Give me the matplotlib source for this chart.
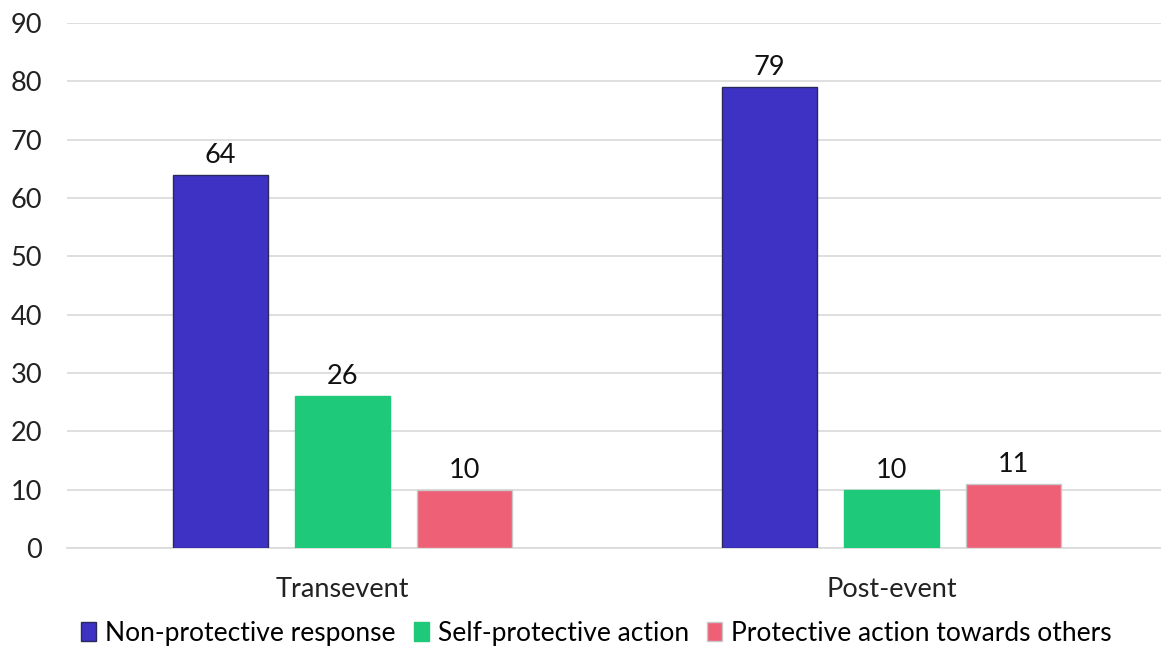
import numpy as np
import matplotlib
matplotlib.use("Agg")
import matplotlib.pyplot as plt

plt.rcParams['font.family'] = ['Lato', 'DejaVu Sans']

categories = ["Transevent", "Post-event"]
series_names = ["Non-protective response", "Self-protective action", "Protective action towards others"]
non_protective = [64, 79]
self_protective = [26, 10]
protective_others = [10, 11]
yticks = [0, 10, 20, 30, 40, 50, 60, 70, 80, 90]

colors = ["#3D32C4", "#1FC97A", "#EE6076"]
edges = ["#2a2a5a", "#1FC97A", "#c8c8c8"]

W, H = 1161, 647
fig = plt.figure(figsize=(W / 100, H / 100), dpi=100)
ax = fig.add_axes([67 / W, (647 - 548) / H, (W - 67) / W, (548 - 23) / H])

x = np.arange(len(categories))
bw = 95 / 549
step = 122 / 549
data = [non_protective, self_protective, protective_others]
for i, vals in enumerate(data):
    pos = x + (i - 1) * step
    bars = ax.bar(pos, vals, width=bw, color=colors[i], edgecolor=edges[i],
                  linewidth=1.0, label=series_names[i], zorder=3)
    for b, v in zip(bars, vals):
        ax.text(b.get_x() + b.get_width() / 2, v + 1.2, str(v),
                ha='center', va='bottom', fontsize=19.5, color='#111111')

ax.set_xlim(-275.5 / 549, (W - 342.5) / 549)
ax.set_ylim(0, 90)
ax.set_yticks(yticks)
ax.set_xticks(x)
ax.set_xticklabels(categories)
ax.yaxis.grid(True, color='#d9d9d9', linewidth=1.2, zorder=0)
for s in ['top', 'right', 'left']:
    ax.spines[s].set_visible(False)
ax.spines['bottom'].set_color('#d9d9d9')
ax.spines['bottom'].set_linewidth(1.2)
ax.tick_params(axis='both', length=0, labelsize=19.5, colors='#222222')
ax.tick_params(axis='y', pad=18)
ax.tick_params(axis='x', pad=21)

ax.legend(loc='upper center', bbox_to_anchor=(0.484, -0.118), ncol=3, frameon=False,
          fontsize=19, handlelength=0.55, handleheight=0.7, handletextpad=0.35,
          columnspacing=0.7, borderaxespad=0)

fig.savefig("out.png", dpi=100)
